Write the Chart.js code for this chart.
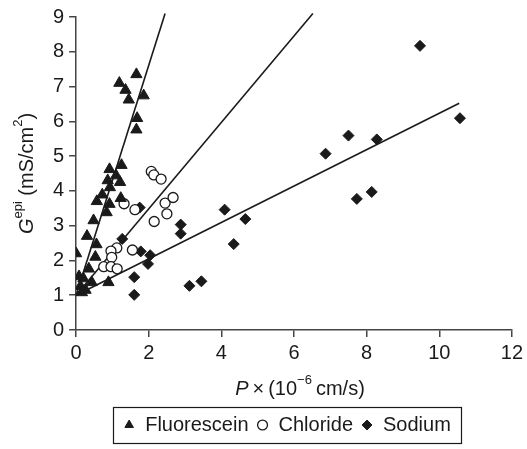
<!DOCTYPE html>
<html>
<head>
<meta charset="utf-8">
<script src="https://cdn.jsdelivr.net/npm/chart.js@4"></script>
<style>
  body { margin: 0; background: #fff; }
</style>
</head>
<body>
<canvas id="myChart" width="527" height="449"></canvas>
<script>
// Fluorescein (triangles)
const fluoX = [1.66, 1.19, 1.36, 1.45, 1.86, 1.68, 1.66, 0.92, 1.25, 1.1, 0.87, 1.21, 0.93, 0.72, 0.57, 0.92, 0.84, 0.48,
  1.23, 0.3, 0.56, 0.0, 0.53, 0.35, 0.08, 0.2, 0.43, 0.12, 0.26, 0.16, 0.89];
const fluoY = [7.35, 7.1, 6.9, 6.62, 6.74, 6.09, 5.76, 4.62, 4.74, 4.44, 4.3, 4.25, 4.1, 3.89, 3.7, 3.62, 3.38, 3.15,
  3.79, 2.7, 2.46, 2.2, 2.1, 1.76, 1.54, 1.48, 1.37, 1.26, 1.15, 1.08, 1.37];

// Chloride (open circles)
const chlorX = [2.07, 2.14, 2.34, 1.32, 1.62, 2.45, 2.67, 2.5, 2.15, 1.12, 0.96, 0.98, 1.55, 0.76, 0.96, 1.13];
const chlorY = [4.56, 4.46, 4.34, 3.63, 3.46, 3.65, 3.81, 3.34, 3.12, 2.36, 2.27, 2.09, 2.3, 1.82, 1.82, 1.76];

// Sodium (diamonds)
const sodX = [1.75, 1.27, 1.78, 2.04, 1.98, 1.6, 1.6, 2.88, 2.88, 3.12, 3.45, 4.09, 4.66, 4.34, 6.87, 7.5, 8.28, 7.73, 8.14, 9.47, 10.57];
const sodY = [3.52, 2.62, 2.26, 2.15, 1.9, 1.52, 1.01, 3.03, 2.77, 1.27, 1.4, 3.46, 3.19, 2.47, 5.07, 5.59, 5.48, 3.77, 3.97, 8.17, 6.09];

// fitted lines (end points)
const fitFluoX = [0, 2.45];
const fitFluoY = [1.0, 9.1];
const fitChlorX = [0, 6.52];
const fitChlorY = [1.0, 9.1];
const fitSodX = [0, 10.55];
const fitSodY = [1.0, 6.52];

const xTicks = [0, 2, 4, 6, 8, 10, 12];
const yTicks = [0, 1, 2, 3, 4, 5, 6, 7, 8, 9];

const FONT = "'Liberation Sans', Arial, sans-serif";
const INK = "#1a1a1a";
const TITLE_PAD = { top: 8, bottom: 6 };

function pts(xs, ys) {
  return xs.map((x, i) => ({ x: x, y: ys[i] }));
}

function fitLine(xs, ys) {
  return {
    type: "scatter",
    data: pts(xs, ys),
    showLine: true,
    borderColor: INK,
    borderWidth: 1.6,
    pointRadius: 0,
    clip: false,
    label: "fit",
  };
}

// draws text made of parts (italic / superscript)
function drawRich(ctx, parts, cx, cy, size) {
  const fontOf = (p) => (p.italic ? "italic " : "") + (p.sup ? Math.round(size * 0.65) : size) + "px " + FONT;
  let total = 0;
  parts.forEach((p) => {
    ctx.font = fontOf(p);
    p.w = ctx.measureText(p.t).width;
    total += p.w;
  });
  let x = cx - total / 2;
  parts.forEach((p) => {
    ctx.font = fontOf(p);
    ctx.fillText(p.t, x, p.sup ? cy - size * 0.42 : cy);
    x += p.w;
  });
}

const titlesPlugin = {
  id: "titlesPlugin",
  afterDraw(chart) {
    const ctx = chart.ctx;
    const a = chart.chartArea;
    ctx.save();
    ctx.fillStyle = INK;
    ctx.textBaseline = "middle";
    ctx.textAlign = "left";

    const xs = chart.scales.x;
    const ty = xs.bottom - TITLE_PAD.bottom - 12;
    drawRich(ctx, [
      { t: "P", italic: true },
      { t: "\u2009\u00d7\u2009(10" },
      { t: "\u22126", sup: true },
      { t: "\u2009cm/s)" },
    ], (a.left + a.right) / 2 + 6, ty, 20);

    ctx.translate(27, (a.top + a.bottom) / 2);
    ctx.rotate(-Math.PI / 2);
    drawRich(ctx, [
      { t: "G", italic: true },
      { t: "epi", sup: true },
      { t: " (mS/cm" },
      { t: "2", sup: true },
      { t: ")" },
    ], 0, 0, 20);
    ctx.restore();

    // box around the legend
    const boxes = chart.legend.legendHitBoxes;
    if (boxes && boxes.length) {
      let l = Infinity, r = -Infinity, t = Infinity, b = -Infinity;
      boxes.forEach((h) => {
        l = Math.min(l, h.left);
        r = Math.max(r, h.left + h.width);
        t = Math.min(t, h.top);
        b = Math.max(b, h.top + h.height);
      });
      ctx.save();
      ctx.strokeStyle = INK;
      ctx.lineWidth = 1.2;
      ctx.strokeRect(Math.round(l - 10) + 0.5, Math.round(t - 8) + 0.5, Math.round(r - l + 20), Math.round(b - t + 16));
      ctx.restore();
    }
  },
};

const ctx = document.getElementById("myChart").getContext("2d");
new Chart(ctx, {
  type: "scatter",
  data: {
    datasets: [
      {
        label: "Fluorescein",
        data: pts(fluoX, fluoY),
        pointStyle: "triangle",
        pointRadius: 6.5,
        backgroundColor: INK,
        borderColor: INK,
        borderWidth: 1,
      },
      {
        label: "Chloride",
        data: pts(chlorX, chlorY),
        pointStyle: "circle",
        pointRadius: 5,
        backgroundColor: "#fff",
        borderColor: INK,
        borderWidth: 1.3,
      },
      {
        label: "Sodium",
        data: pts(sodX, sodY),
        pointStyle: "rectRot",
        pointRadius: 5.5,
        backgroundColor: INK,
        borderColor: INK,
        borderWidth: 1,
      },
      fitLine(fitFluoX, fitFluoY),
      fitLine(fitChlorX, fitChlorY),
      fitLine(fitSodX, fitSodY),
    ],
  },
  options: {
    responsive: false,
    animation: false,
    layout: { padding: { left: 48, right: 1, top: 4, bottom: 4 } },
    plugins: {
      tooltip: { enabled: false },
      legend: {
        position: "bottom",
        labels: {
          filter: (item) => item.text !== "fit",
          usePointStyle: true,
          boxWidth: 12,
          boxHeight: 7,
          padding: 8,
          color: INK,
          font: { family: FONT, size: 20 },
        },
      },
    },
    scales: {
      x: {
        type: "linear",
        min: 0,
        max: 12,
        afterBuildTicks: (axis) => { axis.ticks = xTicks.map((v) => ({ value: v })); },
        border: { display: true, color: "#444", width: 1.5 },
        grid: { display: true, drawOnChartArea: false, drawTicks: true, tickLength: 7, color: "#444", lineWidth: 1.5 },
        ticks: { color: INK, padding: 4, font: { family: FONT, size: 20 } },
        title: {
          display: true,
          text: "P×(10−6 cm/s)",
          color: "rgba(0,0,0,0)",
          padding: TITLE_PAD,
          font: { family: FONT, size: 20 },
        },
      },
      y: {
        type: "linear",
        min: 0,
        max: 9,
        afterBuildTicks: (axis) => { axis.ticks = yTicks.map((v) => ({ value: v })); },
        border: { display: true, color: "#444", width: 1.5 },
        grid: { display: true, drawOnChartArea: false, drawTicks: true, tickLength: 7, color: "#444", lineWidth: 1.5 },
        ticks: { color: INK, padding: 5, font: { family: FONT, size: 20 } },
      },
    },
  },
  plugins: [titlesPlugin],
});
</script>
</body>
</html>
